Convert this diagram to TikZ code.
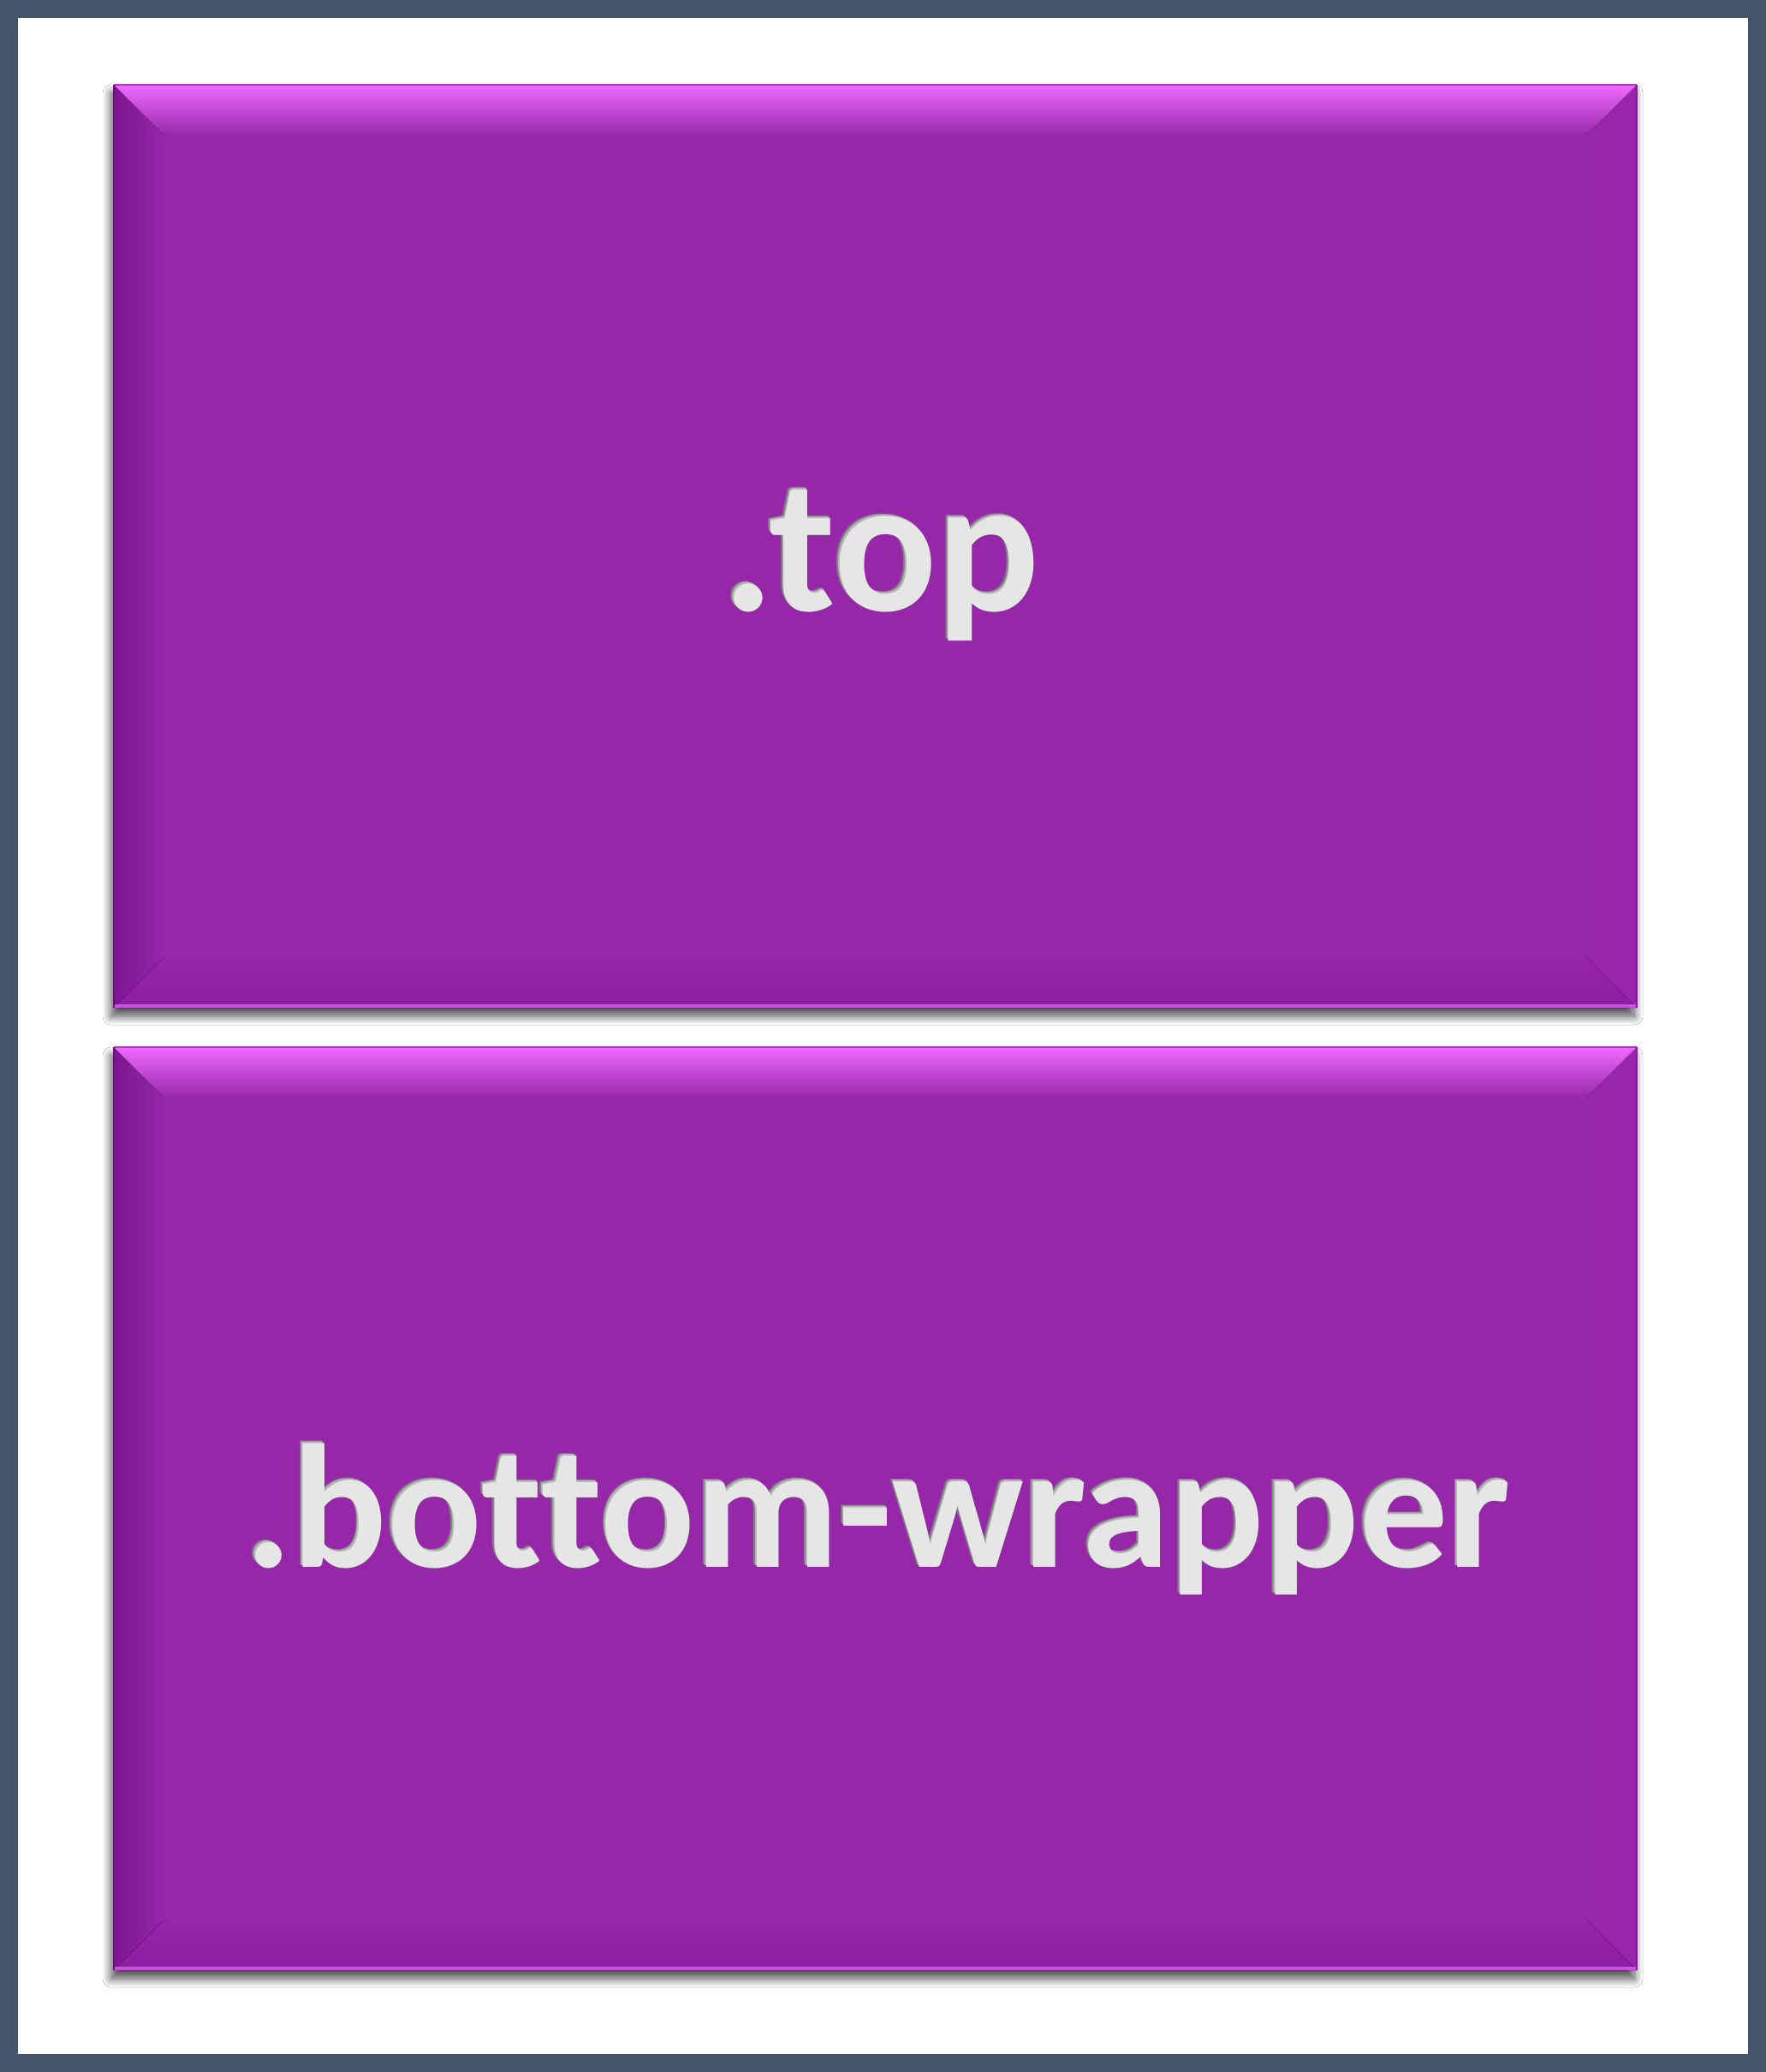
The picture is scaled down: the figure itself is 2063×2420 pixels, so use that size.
\documentclass[tikz,border=0pt]{standalone}
\usepackage{fontspec}
\setmainfont[Ligatures=NoCommon]{Carlito}
\usetikzlibrary{shadows.blur,calc}
\definecolor{frame}{HTML}{44546A}
\definecolor{base}{HTML}{9627A9}
\definecolor{bvtop}{HTML}{F06AFF}
\definecolor{bvleft}{HTML}{7C168F}
\definecolor{bvright}{HTML}{9A24AE}
\definecolor{bvbot}{HTML}{8C1CA2}
\definecolor{bvline}{HTML}{C455DA}
\definecolor{edge}{HTML}{A43CBC}
\definecolor{txtlight}{HTML}{E6E6E6}
\definecolor{txtmid}{HTML}{B4B4B4}
\definecolor{txtdark}{HTML}{7E7E7E}
\tikzset{
  panel/.style={fill=base, draw=none, minimum width=1779pt, minimum height=1078pt, inner sep=0pt,
    blur shadow={shadow xshift=-3pt, shadow yshift=-10pt, shadow blur radius=10pt, shadow blur steps=12, shadow opacity=70}},
  lbl/.style={inner sep=0pt, anchor=base},
}
\newcommand\bevelpanel[1]{%
  \fill[left color=bvleft, right color=base]
    (#1.north west) -- ([shift={(60,60)}]#1.north west) -- ([shift={(60,-60)}]#1.south west) -- (#1.south west) -- cycle;
  \fill[left color=base, right color=bvright]
    (#1.north east) -- ([shift={(-60,60)}]#1.north east) -- ([shift={(-60,-60)}]#1.south east) -- (#1.south east) -- cycle;
  \fill[top color=base, bottom color=bvbot]
    (#1.south west) -- ([shift={(60,-60)}]#1.south west) -- ([shift={(-60,-60)}]#1.south east) -- (#1.south east) -- cycle;
  \fill[top color=bvtop, bottom color=base]
    (#1.north west) -- (#1.north east) -- ([shift={(-60,60)}]#1.north east) -- ([shift={(60,60)}]#1.north west) -- cycle;
  \fill[bvline] ([shift={(1,-4)}]#1.south west) rectangle (#1.south east);
  \draw[edge, line width=2pt] (#1.north west) -- (#1.north east);
  \draw[bvleft!80!black, line width=1.5pt] (#1.north west) -- (#1.south west);
  \draw[bvright!85!black, line width=1.5pt] (#1.north east) -- (#1.south east);
}
\newcommand\insettext[3]{% position, font size, text
  \node[lbl, text=txtdark, font=\fontsize{#2}{#2}\selectfont\bfseries] at #1 {#3};
  \node[lbl, text=txtmid, font=\fontsize{#2}{#2}\selectfont\bfseries] at ($#1+(1.8,1.8)$) {#3};
  \node[lbl, text=txtlight, font=\fontsize{#2}{#2}\selectfont\bfseries] at ($#1+(3.5,3.5)$) {#3};
}
\begin{document}
\begin{tikzpicture}[x=1pt, y=-1pt]
  \useasboundingbox (0,0) rectangle (2063,2420);
  \fill[frame] (0,0) rectangle (2063,2420);
  \fill[white] (21,21) rectangle (2042,2399);
  \node[panel] (top) at (1022.5,638) {};
  \node[panel] (bottom) at (1022.5,1762) {};
  \bevelpanel{top}
  \bevelpanel{bottom}
  \insettext{(1026,710)}{224}{.top}
  \insettext{(1022,1827)}{206}{.bottom-wrapper}
\end{tikzpicture}
\end{document}
